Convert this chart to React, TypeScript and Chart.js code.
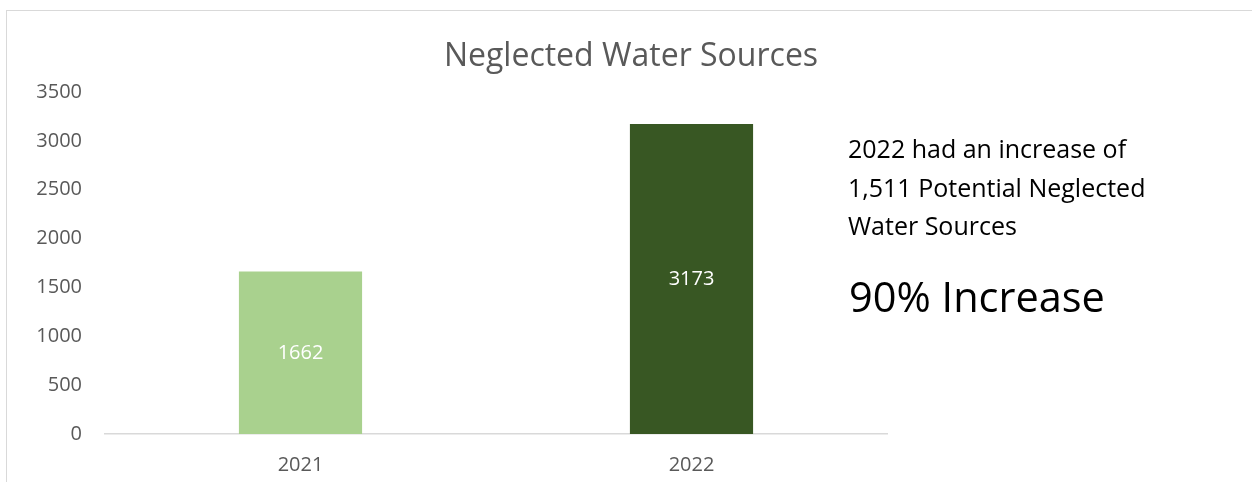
import React, { useEffect, useRef } from "react";
import { Chart, registerables } from "chart.js";

Chart.register(...registerables);

const categories: string[] = ["2021", "2022"];
const values: number[] = [1662, 3173];
const barColors: string[] = ["#A9D18E", "#385723"];
const yTicks: number[] = [0, 500, 1000, 1500, 2000, 2500, 3000, 3500];
const titleText = "Neglected Water Sources";
const noteLines: string[] = [
  "2022 had an increase of",
  "1,511 Potential Neglected",
  "Water Sources",
];
const bigNote = "90% Increase";

const FONT = "'Open Sans', 'Noto Sans', sans-serif";

const barLabelPlugin = {
  id: "barLabels",
  afterDatasetsDraw(chart: any) {
    const ctx = chart.ctx;
    const meta = chart.getDatasetMeta(0);
    ctx.save();
    ctx.fillStyle = "#FFFFFF";
    ctx.font = `20px ${FONT}`;
    ctx.textAlign = "center";
    ctx.textBaseline = "middle";
    meta.data.forEach((bar: any, i: number) => {
      const { x, y, base } = bar.getProps(["x", "y", "base"], true);
      ctx.fillText(String(values[i]), x, (y + base) / 2);
    });
    ctx.restore();
  },
};

export default function App() {
  const canvasRef = useRef<HTMLCanvasElement | null>(null);

  useEffect(() => {
    const canvas = canvasRef.current;
    if (!canvas) return;
    const chart = new Chart(canvas, {
      type: "bar",
      data: {
        labels: categories,
        datasets: [
          {
            data: values,
            backgroundColor: barColors,
            borderWidth: 0,
            categoryPercentage: 1,
            barPercentage: 0.315,
          },
        ],
      },
      options: {
        animation: false,
        responsive: false,
        maintainAspectRatio: false,
        layout: { padding: { left: 0, right: 365, top: 92, bottom: 0 } },
        plugins: {
          legend: { display: false },
          title: { display: false },
          tooltip: { enabled: false },
        },
        scales: {
          x: {
            grid: { display: false, drawTicks: false },
            border: { display: true, color: "#D9D9D9", width: 1.5 },
            ticks: {
              color: "#595959",
              font: { family: FONT, size: 20 },
              padding: 19,
            },
            afterFit: (scale: any) => {
              scale.height = 48;
            },
          },
          y: {
            min: 0,
            max: 3500,
            afterBuildTicks: (scale: any) => {
              scale.ticks = yTicks.map((v) => ({ value: v }));
            },
            grid: { display: false, drawTicks: false },
            border: { display: false },
            ticks: {
              color: "#595959",
              font: { family: FONT, size: 20 },
              padding: 23,
              callback: (v: any) => String(v),
            },
            afterFit: (scale: any) => {
              scale.width = 105;
            },
          },
        },
      },
      plugins: [barLabelPlugin],
    });
    return () => chart.destroy();
  }, []);

  return (
    <div
      style={{
        position: "fixed",
        left: 0,
        top: 0,
        width: 1252,
        height: 482,
        background: "#FFFFFF",
        overflow: "hidden",
      }}
    >
      <div
        style={{
          position: "absolute",
          left: 6,
          top: 10,
          width: 1300,
          height: 600,
          borderLeft: "1.5px solid #D9D9D9",
          borderTop: "1.5px solid #D9D9D9",
        }}
      />
      <canvas
        ref={canvasRef}
        width={1252}
        height={482}
        style={{ position: "absolute", left: 0, top: 0, width: 1252, height: 482 }}
      />
      <div
        style={{
          position: "absolute",
          left: 631,
          top: 38,
          transform: "translateX(-50%)",
          whiteSpace: "nowrap",
          fontFamily: FONT,
          fontSize: 32,
          lineHeight: "32px",
          color: "#595959",
        }}
      >
        {titleText}
      </div>
      <div
        style={{
          position: "absolute",
          left: 848,
          top: 129,
          whiteSpace: "nowrap",
          fontFamily: FONT,
          fontSize: 25,
          lineHeight: "38.5px",
          color: "#000000",
        }}
      >
        {noteLines.map((l, i) => (
          <div key={i}>{l}</div>
        ))}
      </div>
      <div
        style={{
          position: "absolute",
          left: 849,
          top: 276,
          whiteSpace: "nowrap",
          fontFamily: FONT,
          fontSize: 41.5,
          lineHeight: "41.5px",
          color: "#000000",
        }}
      >
        {bigNote}
      </div>
    </div>
  );
}
